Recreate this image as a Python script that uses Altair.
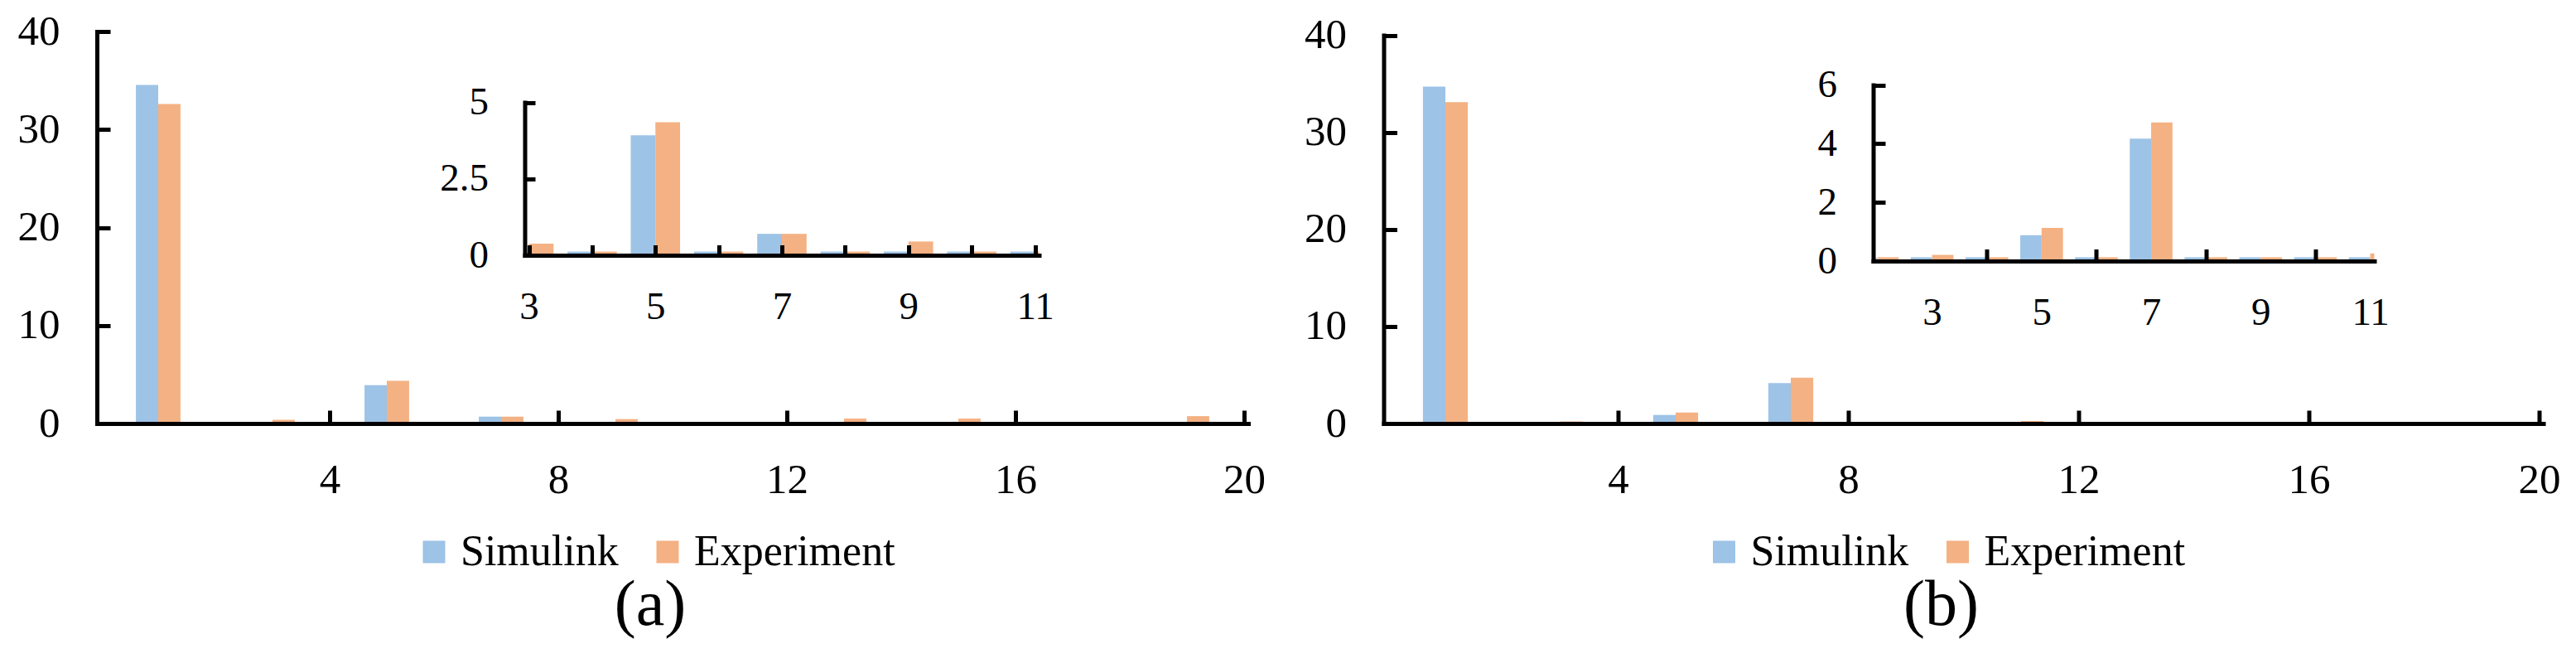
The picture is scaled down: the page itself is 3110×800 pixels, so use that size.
import altair as alt
import pandas as pd

# ---------------- data ----------------
harmonics = list(range(1, 21))
sim_a = [34.55, 0.10, 0.10, 0.12, 3.92, 0.12, 0.70, 0.12, 0.12, 0.12,
         0.12, 0.10, 0.10, 0.10, 0.10, 0.10, 0.10, 0.10, 0.10, 0.10]
exp_a = [32.60, 0.10, 0.38, 0.12, 4.35, 0.12, 0.70, 0.12, 0.45, 0.12,
         0.12, 0.10, 0.50, 0.10, 0.50, 0.10, 0.10, 0.10, 0.75, 0.10]
sim_b = [34.70, 0.10, 0.13, 0.13, 0.88, 0.13, 4.17, 0.13, 0.13, 0.13,
         0.13, 0.10, 0.10, 0.10, 0.10, 0.10, 0.10, 0.10, 0.10, 0.10]
exp_b = [33.10, 0.13, 0.21, 0.13, 1.13, 0.13, 4.72, 0.13, 0.13, 0.13,
         0.26, 0.10, 0.10, 0.10, 0.10, 0.10, 0.10, 0.10, 0.10, 0.10]

series_names = ["Simulink", "Experiment"]
series_colors = ["#9DC3E6", "#F4B183"]
captions = {"a": "(a)", "b": "(b)"}

main_x_ticks = [4, 8, 12, 16, 20]
main_y_ticks = [0, 10, 20, 30, 40]
inset_a_x_labels = [3, 5, 7, 9, 11]
inset_a_x_ticks = [3, 4, 5, 6, 7, 8, 9, 10, 11]
inset_a_y_ticks = [0, 2.5, 5]
inset_b_x_labels = [3, 5, 7, 9, 11]
inset_b_x_ticks = [4, 6, 8, 10]
inset_b_y_ticks = [0, 2, 4, 6]

rows = []
for panel, sim, exp in (("a", sim_a, exp_a), ("b", sim_b, exp_b)):
    for h, s, e in zip(harmonics, sim, exp):
        rows.append({"panel": panel, "h": h, "series": "Simulink", "value": s})
        rows.append({"panel": panel, "h": h, "series": "Experiment", "value": e})
df = pd.DataFrame(rows)

# ---------------- style / layout ----------------
FONT = "Liberation Serif, Times New Roman, serif"
H = 473
HALF = 0.39


def color_enc(legend):
    return alt.Color("series:N",
                     scale=alt.Scale(domain=series_names, range=series_colors),
                     legend=legend)


def bar_layer(panel, series, hmin, hmax, xdom, ydom, xaxis, yaxis, legend,
              xrange_=None, yrange_=None):
    base = alt.Chart(df).transform_filter(
        (alt.datum.panel == panel) & (alt.datum.series == series)
        & (alt.datum.h >= hmin) & (alt.datum.h <= hmax)
    )
    if series == "Simulink":
        base = base.transform_calculate(x0=f"datum.h - {HALF}", x1="datum.h")
    else:
        base = base.transform_calculate(x0="datum.h", x1=f"datum.h + {HALF}")
    xs = dict(domain=xdom, clamp=True, nice=False, zero=False)
    if xrange_ is not None:
        xs["range"] = xrange_
    ys = dict(domain=ydom, nice=False, zero=True)
    if yrange_ is not None:
        ys["range"] = yrange_
    return base.mark_bar(orient="vertical").encode(
        x=alt.X("x0:Q", scale=alt.Scale(**xs), axis=xaxis, title=None),
        x2="x1:Q",
        y=alt.Y("value:Q", scale=alt.Scale(**ys), axis=yaxis, title=None),
        y2=alt.datum(0),
        color=color_enc(legend),
    )


def label_axis(orient, values, size, pad, offset=0, dw=5):
    return alt.Axis(orient=orient, values=values, ticks=False, domain=True,
                    domainWidth=dw, domainColor="black", domainCap="square",
                    labelFont=FONT, labelFontSize=size, labelColor="black",
                    labelPadding=pad, labelFlush=False, labelOverlap=False,
                    grid=False, title=None, zindex=1, offset=offset,
                    format=".3~g")


def tick_axis(orient, values, size, offset):
    return alt.Axis(orient=orient, values=values, ticks=True, tickSize=size,
                    tickWidth=5, tickColor="black", labels=False,
                    domain=False, grid=False, title=None, zindex=1,
                    offset=offset)


def panel_chart(panel, W, main_yrange, inset_x, inset_y, inset_xdom,
                inset_ydom, inset_xlabels, inset_xticks, inset_yticks,
                inset_tick, legend_x):
    legend = alt.Legend(title=None, orient="none", legendX=legend_x,
                        legendY=602, direction="horizontal",
                        symbolType="square", symbolSize=729,
                        symbolStrokeWidth=0, symbolOpacity=1,
                        labelFont=FONT, labelFontSize=52,
                        labelColor="black", labelLimit=1000,
                        labelOffset=6, columnPadding=33, padding=0,
                        gridAlign="each")
    main_sim = bar_layer(
        panel, "Simulink", 1, 20, [0, 20], [0, 40],
        label_axis("bottom", main_x_ticks, 51, 43),
        label_axis("left", main_y_ticks, 51, 45),
        legend, yrange_=main_yrange)
    main_exp = bar_layer(
        panel, "Experiment", 1, 20, [0, 20], [0, 40],
        tick_axis("top", main_x_ticks, 16, -H),
        tick_axis("right", main_y_ticks, 16, -W),
        legend, yrange_=main_yrange)
    ins_sim = bar_layer(
        panel, "Simulink", inset_xdom[0], inset_xdom[1], inset_xdom,
        inset_ydom,
        label_axis("bottom", inset_xlabels, 47, 39, offset=-(H - inset_y[0])),
        label_axis("left", inset_yticks, 47, 44, offset=-inset_x[0]),
        legend, xrange_=inset_x, yrange_=inset_y)
    ins_exp = bar_layer(
        panel, "Experiment", inset_xdom[0], inset_xdom[1], inset_xdom,
        inset_ydom,
        tick_axis("top", inset_xticks, inset_tick, -inset_y[0]),
        tick_axis("right", inset_yticks, inset_tick, -(W - inset_x[0])),
        legend, xrange_=inset_x, yrange_=inset_y)
    return alt.layer(main_sim, main_exp, ins_sim, ins_exp).resolve_scale(
        x="independent", y="independent"
    ).resolve_axis(x="independent", y="independent").properties(
        width=W, height=H,
        title=alt.TitleParams(captions[panel], orient="bottom",
                              anchor="middle", frame="group", dx=-27,
                              font=FONT, fontSize=78, fontWeight="normal",
                              color="black", offset=0),
    )


panel_a = panel_chart("a", 1390, [H, 0], [516.5, 1137.5], [270, 85.5],
                      [3, 11], [0, 5], inset_a_x_labels, inset_a_x_ticks,
                      inset_a_y_ticks, 12.5, 381)
panel_b = panel_chart("b", 1400, [H, 4.5], [591, 1196], [277, 64.5],
                      [2, 11], [0, 6], inset_b_x_labels, inset_b_x_ticks,
                      inset_b_y_ticks, 14.5, 385)

chart = alt.hconcat(panel_a, panel_b, spacing=163.5, bounds="flush").resolve_scale(
    color="independent"
).properties(
    padding={"left": 13, "top": 4, "right": 5, "bottom": 5}
).configure_view(stroke=None)

chart.save("out.html", embed_options={"renderer": "svg", "actions": False})
